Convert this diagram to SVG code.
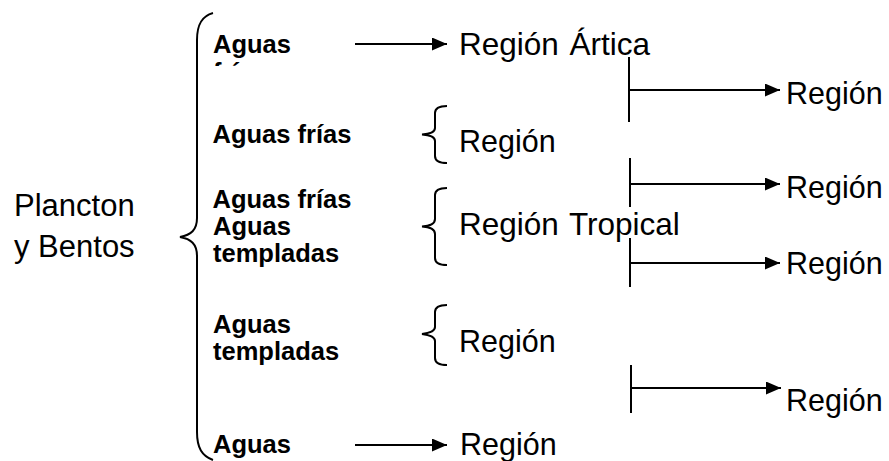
<svg xmlns="http://www.w3.org/2000/svg" width="889" height="461" viewBox="0 0 889 461">
<style>
.b{font-family:"Liberation Sans",Arial,sans-serif;font-weight:bold;font-size:25.5px;fill:#000}
.r{font-family:"Liberation Sans",Arial,sans-serif;font-size:30.5px;fill:#000}
.m{font-family:"Liberation Sans",Arial,sans-serif;font-size:31.5px;word-spacing:2px;fill:#000}
.p{font-family:"Liberation Sans",Arial,sans-serif;font-size:31px;fill:#000}
.ln{stroke:#000;stroke-width:2;fill:none}
</style>
<defs>
<marker id="ah" markerUnits="userSpaceOnUse" markerWidth="16" markerHeight="13" refX="15" refY="6.5" orient="auto">
<path d="M0,0 L15,6.5 L0,13 z" fill="#000"/>
</marker>
<clipPath id="cl"><rect x="200" y="58" width="150" height="8"/></clipPath>
</defs>
<rect width="889" height="461" fill="#fff"/>
<g id="root">
<text class="p" x="14" y="215.5">Plancton</text>
<text class="p" x="14" y="257">y Bentos</text>
</g>
<g id="aguas1">
<text class="b" x="213" y="53">Aguas</text>
<g clip-path="url(#cl)"><text class="b" x="213" y="80.5">frías</text></g>
</g>
<g id="aguas2">
<text class="b" x="212.5" y="142.5">Aguas frías</text>
</g>
<g id="aguas3">
<text class="b" x="212.5" y="207.5">Aguas frías</text>
<text class="b" x="213" y="234.5">Aguas</text>
<text class="b" x="213" y="261.5">templadas</text>
</g>
<g id="aguas4">
<text class="b" x="213" y="332.5">Aguas</text>
<text class="b" x="213" y="360">templadas</text>
</g>
<g id="aguas5">
<text class="b" x="213" y="452.5">Aguas</text>
</g>
<g id="region-artica">
<text class="m" x="459" y="55">Región Ártica</text>
</g>
<g id="region-a">
<text class="r" x="459" y="152">Región</text>
</g>
<g id="region-tropical">
<text class="m" x="459" y="235">Región Tropical</text>
</g>
<g id="region-c">
<text class="r" x="459" y="352">Región</text>
</g>
<g id="region-bottom">
<text class="r" x="460" y="455">Región</text>
</g>
<g id="region-r1"><text class="r" x="786" y="103.5">Región</text></g>
<g id="region-r2"><text class="r" x="786" y="197.5">Región</text></g>
<g id="region-r3"><text class="r" x="786" y="274">Región</text></g>
<g id="region-r4"><text class="r" x="786" y="410.5">Región</text></g>
<g id="connectors">
<path class="ln" d="M213,13 C202,16 197,24 197,40 L197,218 C197,230 191,235 180,237 C191,239 197,244 197,256 L197,432 C197,448 202,456 213,460"/>
<path class="ln" d="M447,106 C440,106 435,108 435,113 L435,128 C435,132 430,134 422,134.5 C430,135 435,137 435,141 L435,156 C435,161 440,163 447,163"/>
<path class="ln" d="M447,188 C440,188 435,190 435,195 L435,219 C435,224 430,226 422,226.5 C430,227 435,229 435,234 L435,258 C435,263 440,265 447,265"/>
<path class="ln" d="M447,305 C440,305 435,307 435,312 L435,327 C435,331 430,333 422,334 C430,335 435,337 435,341 L435,358 C435,363 440,365 447,365"/>
<line class="ln" x1="355" y1="44" x2="447" y2="44" marker-end="url(#ah)"/>
<line class="ln" x1="355" y1="445" x2="447" y2="445" marker-end="url(#ah)"/>
<line class="ln" x1="629" y1="57" x2="629" y2="122"/>
<line class="ln" x1="629" y1="90" x2="780" y2="90" marker-end="url(#ah)"/>
<line class="ln" x1="630" y1="158" x2="630" y2="207"/>
<line class="ln" x1="630" y1="184" x2="780" y2="184" marker-end="url(#ah)"/>
<line class="ln" x1="630" y1="238" x2="630" y2="287"/>
<line class="ln" x1="630" y1="263" x2="780" y2="263" marker-end="url(#ah)"/>
<line class="ln" x1="631" y1="365" x2="631" y2="413"/>
<line class="ln" x1="631" y1="388" x2="781" y2="388" marker-end="url(#ah)"/>
</g>
</svg>
